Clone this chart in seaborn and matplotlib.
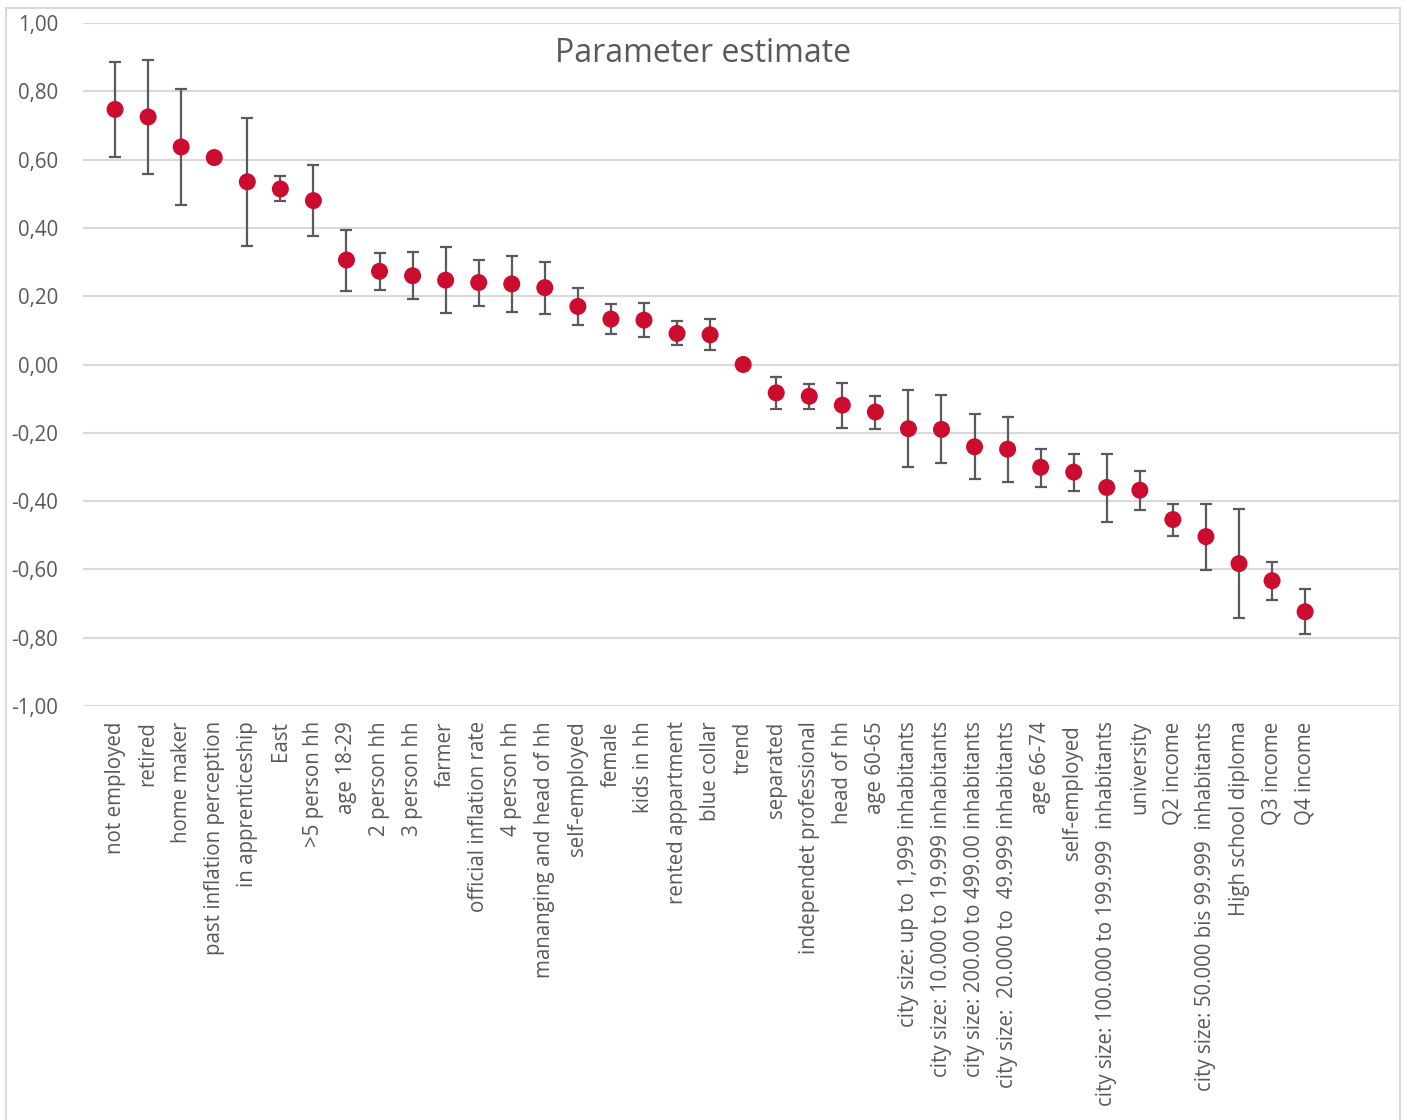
import matplotlib
matplotlib.use("Agg")
import matplotlib.pyplot as plt
from matplotlib.ticker import FuncFormatter, FixedLocator
from matplotlib.patches import Rectangle
import numpy as np
import pandas as pd
import seaborn as sns

categories = [
    "not employed", "retired", "home maker", "past inflation perception",
    "in apprenticeship", "East", ">5 person hh", "age 18-29", "2 person hh",
    "3 person hh", "farmer", "official inflation rate", "4 person hh",
    "mananging and head of hh", "self-employed", "female", "kids in hh",
    "rented appartment", "blue collar", "trend", "separated",
    "independet professional", "head of hh", "age 60-65",
    "city size: up to 1,999 inhabitants",
    "city size: 10.000 to 19.999 inhabitants",
    "city size: 200.00 to 499.00 inhabitants",
    "city size:  20.000 to  49.999 inhabitants",
    "age 66-74", "self-employed ",
    "city size: 100.000 to 199.999  inhabitants",
    "university", "Q2 income",
    "city size: 50.000 bis 99.999  inhabitants",
    "High school diploma", "Q3 income", "Q4 income",
]

estimate = [
    0.747, 0.725, 0.637, 0.606, 0.535, 0.514, 0.480, 0.306, 0.273, 0.260,
    0.247, 0.240, 0.236, 0.225, 0.170, 0.133, 0.130, 0.091, 0.087, 0.000,
    -0.083, -0.093, -0.119, -0.139, -0.188, -0.190, -0.241, -0.248, -0.301,
    -0.315, -0.360, -0.368, -0.454, -0.504, -0.583, -0.633, -0.724,
]

upper = [
    0.885, 0.892, 0.808, 0.606, 0.722, 0.551, 0.583, 0.395, 0.326, 0.329,
    0.345, 0.306, 0.318, 0.301, 0.224, 0.176, 0.179, 0.126, 0.133, 0.000,
    -0.036, -0.058, -0.055, -0.091, -0.075, -0.089, -0.146, -0.153, -0.247,
    -0.261, -0.261, -0.313, -0.408, -0.408, -0.422, -0.577, -0.658,
]

lower = [
    0.608, 0.558, 0.466, 0.606, 0.348, 0.480, 0.377, 0.216, 0.218, 0.192,
    0.150, 0.172, 0.154, 0.148, 0.115, 0.090, 0.081, 0.056, 0.043, 0.000,
    -0.129, -0.129, -0.185, -0.188, -0.299, -0.288, -0.335, -0.345, -0.358,
    -0.370, -0.460, -0.426, -0.502, -0.601, -0.743, -0.689, -0.789,
]

y_ticks = [-1.0, -0.8, -0.6, -0.4, -0.2, 0.0, 0.2, 0.4, 0.6, 0.8, 1.0]
title_text = "Parameter estimate"

TEXT = "#595959"
GRID = "#d9d9d9"
RED = "#cc0c2f"

sns.set_theme(style="white")
plt.rcParams["font.family"] = ["Open Sans", "DejaVu Sans"]

df = pd.DataFrame({
    "pos": np.arange(len(categories)),
    "label": categories,
    "estimate": estimate,
    "lower": lower,
    "upper": upper,
})

fig = plt.figure(figsize=(14.07, 11.2), dpi=100)
ax = fig.add_axes([83 / 1407, 1 - 706 / 1120, (1400 - 83) / 1407, (706 - 23) / 1120])

# confidence intervals behind the point estimates
err = np.vstack([df["estimate"] - df["lower"], df["upper"] - df["estimate"]])
has_err = (err.sum(axis=0) > 0.005)
ax.errorbar(df["pos"][has_err], df["estimate"][has_err], yerr=err[:, has_err],
            fmt="none", ecolor="#5a5a5a", elinewidth=1.6, capsize=4.2,
            capthick=1.6, zorder=2)

sns.scatterplot(data=df, x="pos", y="estimate", ax=ax, color=RED, s=150,
                edgecolor="none", linewidth=0, zorder=3, legend=False)

ax.set_xlim(-0.97, 38.87)
ax.set_ylim(-1.0, 1.0)
ax.yaxis.set_major_locator(FixedLocator(y_ticks))
ax.yaxis.set_major_formatter(
    FuncFormatter(lambda v, _: ("%.2f" % (0.0 if abs(v) < 1e-9 else v)).replace(".", ",")))
ax.set_xticks(df["pos"])
ax.set_xticklabels(df["label"], rotation=90, ha="center", va="top")

ax.grid(axis="y", color=GRID, linewidth=1.5)
ax.grid(axis="x", visible=False)
ax.set_axisbelow(True)
for s in ax.spines.values():
    s.set_visible(False)
ax.tick_params(axis="y", length=0, pad=18, labelsize=14.8, labelcolor=TEXT)
ax.tick_params(axis="x", length=0, pad=11, labelsize=14.8, labelcolor=TEXT)
ax.set_xlabel("")
ax.set_ylabel("")

fig.text(703 / 1407, 1 - 54 / 1120, title_text, ha="center", va="center",
         fontsize=23, color=TEXT)

# chart frame
fig.patches.append(Rectangle((6 / 1407, -0.05), (1400 - 6) / 1407, 1.05 - 8 / 1120,
                             transform=fig.transFigure, fill=False,
                             edgecolor=GRID, linewidth=1.5))

fig.savefig("out.png", dpi=100, facecolor="white")
